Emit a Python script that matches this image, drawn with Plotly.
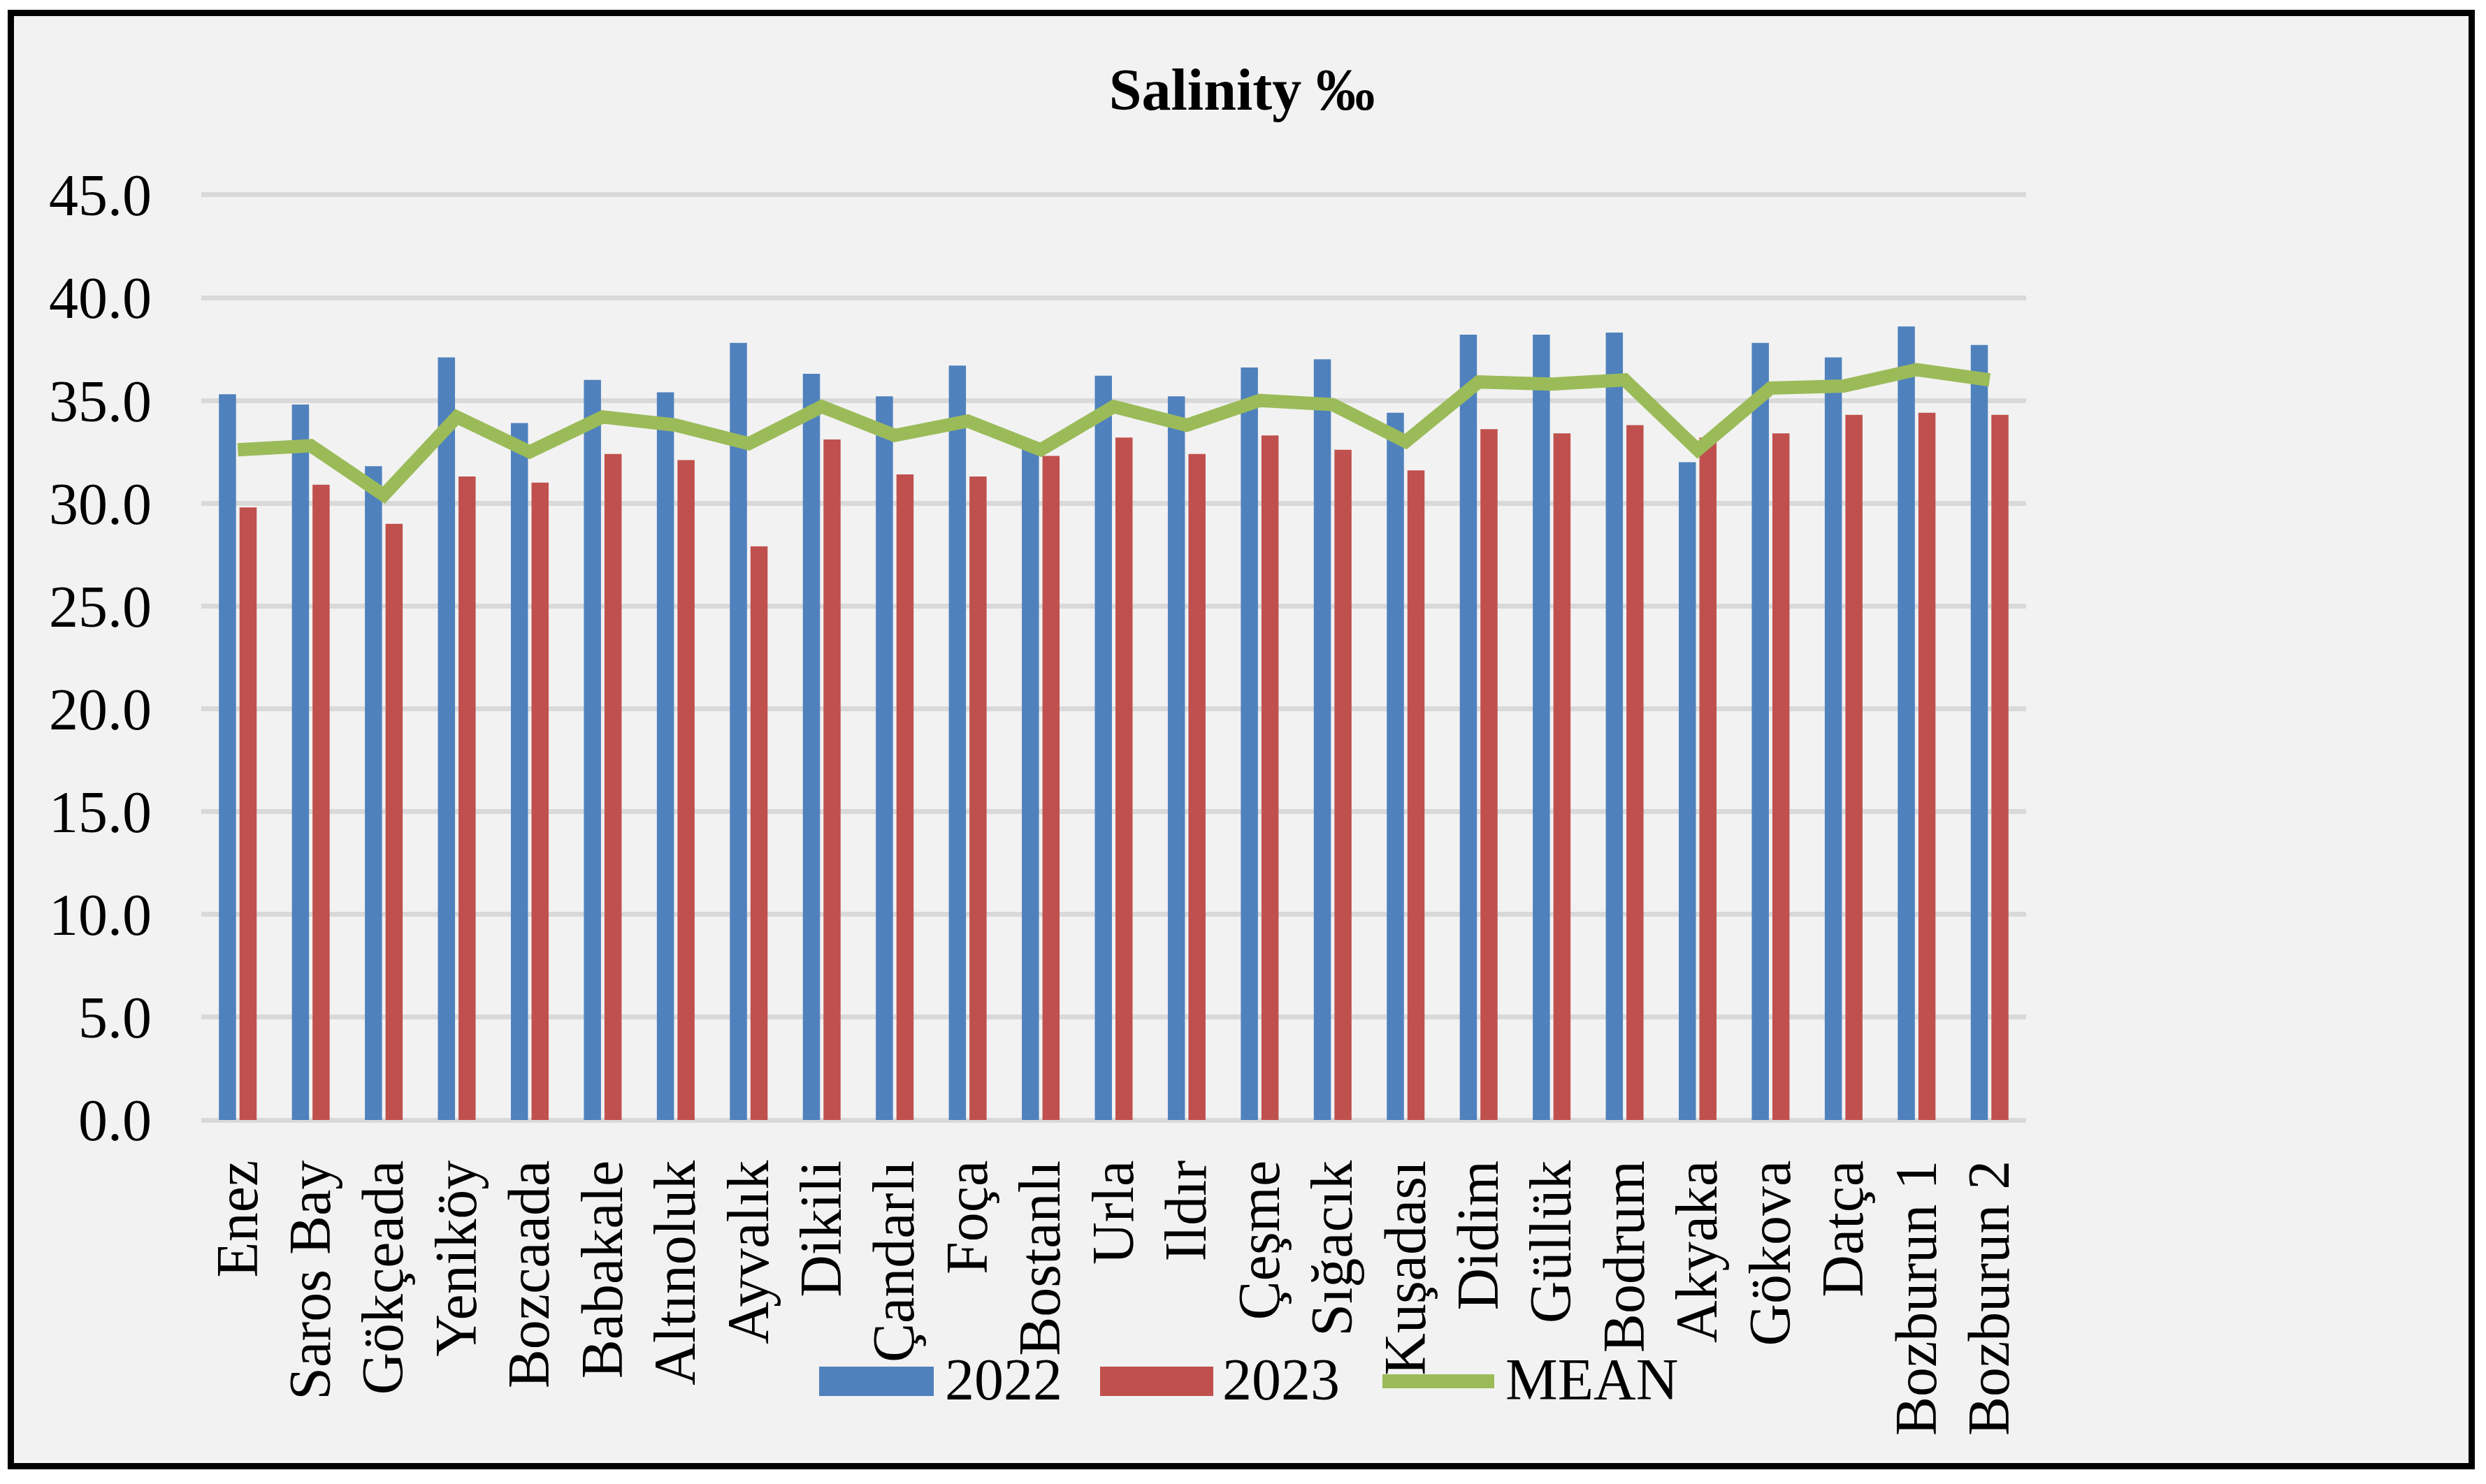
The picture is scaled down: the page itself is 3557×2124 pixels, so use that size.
import plotly.graph_objects as go

categories = ["Enez", "Saros Bay", "Gökçeada", "Yeniköy", "Bozcaada", "Babakale",
              "Altınoluk", "Ayvalık", "Dikili", "Çandarlı", "Foça", "Bostanlı",
              "Urla", "Ildır", "Çeşme", "Sığacık", "Kuşadası", "Didim", "Güllük",
              "Bodrum", "Akyaka", "Gökova", "Datça", "Bozburun 1", "Bozburun 2"]
values_2022 = [35.3, 34.8, 31.8, 37.1, 33.9, 36.0, 35.4, 37.8, 36.3, 35.2, 36.7, 32.9,
               36.2, 35.2, 36.6, 37.0, 34.4, 38.2, 38.2, 38.3, 32.0, 37.8, 37.1, 38.6, 37.7]
values_2023 = [29.8, 30.9, 29.0, 31.3, 31.0, 32.4, 32.1, 27.9, 33.1, 31.4, 31.3, 32.3,
               33.2, 32.4, 33.3, 32.6, 31.6, 33.6, 33.4, 33.8, 33.2, 33.4, 34.3, 34.4, 34.3]
values_mean = [32.6, 32.8, 30.4, 34.2, 32.5, 34.2, 33.8, 32.9, 34.7, 33.3, 34.0, 32.6,
               34.7, 33.8, 35.0, 34.8, 33.0, 35.9, 35.8, 36.0, 32.6, 35.6, 35.7, 36.5, 36.0]
y_ticks = [0, 5, 10, 15, 20, 25, 30, 35, 40, 45]

W, H = 3557, 2124
L, R, T, B = 288, 2899, 276, 1603
FONT = "Liberation Serif, Times New Roman, serif"
C22, C23, CM = "#4F81BD", "#C0504D", "#9BBB59"


def px_x(p):
    return (p - L) / (R - L)


def px_y(p):
    return (B - p) / (B - T)


fig = go.Figure()
fig.add_trace(go.Bar(x=categories, y=values_2022, name="2022", marker_color=C22,
                     marker_line_width=0))
fig.add_trace(go.Bar(x=categories, y=values_2023, name="2023", marker_color=C23,
                     marker_line_width=0))
fig.add_trace(go.Scatter(x=categories, y=values_mean, name="MEAN", mode="lines",
                         line=dict(color=CM, width=19)))

shapes = [
    dict(type="rect", xref="paper", yref="paper",
         x0=px_x(15.5), x1=px_x(3536.5), y0=px_y(2098.5), y1=px_y(18.5),
         fillcolor="#F2F2F2", line=dict(color="black", width=9), layer="below"),
    # custom legend swatches
    dict(type="rect", xref="paper", yref="paper",
         x0=px_x(1172), x1=px_x(1336), y0=px_y(1998), y1=px_y(1956),
         fillcolor=C22, line_width=0),
    dict(type="rect", xref="paper", yref="paper",
         x0=px_x(1574), x1=px_x(1736), y0=px_y(1998), y1=px_y(1956),
         fillcolor=C23, line_width=0),
    dict(type="line", xref="paper", yref="paper",
         x0=px_x(1978), x1=px_x(2138), y0=px_y(1977), y1=px_y(1977),
         line=dict(color=CM, width=20)),
]

annotations = [
    dict(text="2022", xref="paper", yref="paper", x=px_x(1350), y=px_y(1974),
         xanchor="left", yanchor="middle", showarrow=False,
         font=dict(family=FONT, size=84, color="black")),
    dict(text="2023", xref="paper", yref="paper", x=px_x(1747), y=px_y(1974),
         xanchor="left", yanchor="middle", showarrow=False,
         font=dict(family=FONT, size=84, color="black")),
    dict(text="MEAN", xref="paper", yref="paper", x=px_x(2152), y=px_y(1974),
         xanchor="left", yanchor="middle", showarrow=False,
         font=dict(family=FONT, size=84, color="black")),
]

fig.update_layout(
    width=W, height=H,
    margin=dict(l=L, r=W - R, t=T, b=H - B, pad=0),
    paper_bgcolor="white",
    plot_bgcolor="rgba(0,0,0,0)",
    barmode="group",
    bargap=0.435,
    bargroupgap=0.17,
    showlegend=False,
    title=dict(text="<b>Salinity ‰</b>", x=1777 / W, xref="container", xanchor="center",
               y=1 - 128 / H, yref="container", yanchor="middle",
               font=dict(family=FONT, size=84, color="black")),
    font=dict(family=FONT, size=84, color="black"),
    shapes=shapes,
    annotations=annotations,
)

fig.update_xaxes(
    type="category", tickangle=-90, showgrid=False, showline=False,
    ticks="", ticklabelstandoff=40,
    tickfont=dict(family=FONT, size=84, color="black"),
)
fig.update_yaxes(
    range=[0, 45.1], tickvals=y_ticks, tickformat=".1f",
    showgrid=True, gridcolor="#D9D9D9", gridwidth=7,
    zeroline=True, zerolinecolor="#D9D9D9", zerolinewidth=7,
    showline=False, ticks="", ticklabelstandoff=70,
    tickfont=dict(family=FONT, size=84, color="black"),
)

fig.write_html("out.html",
               config={"displayModeBar": False},
               post_script="document.body.style.margin='0';"
                           "document.body.style.overflow='hidden';")
